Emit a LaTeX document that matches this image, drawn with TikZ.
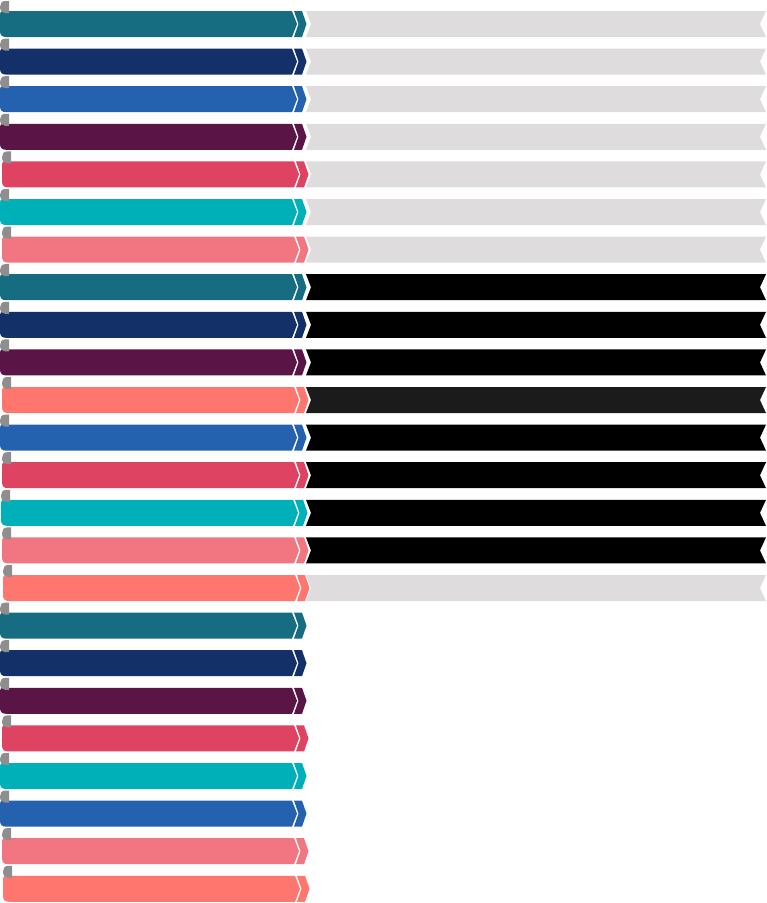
\documentclass[tikz,border=0pt]{standalone}
\definecolor{cteal}{HTML}{166C80}
\definecolor{cnavy}{HTML}{133068}
\definecolor{cblue}{HTML}{2462B0}
\definecolor{cpurple}{HTML}{5B1446}
\definecolor{ccrimson}{HTML}{DE4361}
\definecolor{ccyan}{HTML}{00B0B8}
\definecolor{cpink}{HTML}{F27682}
\definecolor{csalmon}{HTML}{FF766F}
\definecolor{lgray}{HTML}{DEDCDD}
\definecolor{dgray}{HTML}{1B1B1B}
\definecolor{curl}{HTML}{8E8E8E}
\begin{document}
\begin{tikzpicture}[x=1pt,y=-1pt]
\useasboundingbox (0,0) rectangle (767,903);
\foreach \i/\c/\dx/\r/\show in {1/cteal/0/lgray/1, 2/cnavy/0/lgray/1, 3/cblue/0/lgray/1, 4/cpurple/0/lgray/1,
  5/ccrimson/2/lgray/1, 6/ccyan/0/lgray/1, 7/cpink/2/lgray/1, 8/cteal/0/black/1, 9/cnavy/0/black/1,
  10/cpurple/0/black/1, 11/csalmon/2/dgray/1, 12/cblue/0/black/1, 13/ccrimson/2/black/1, 14/ccyan/1/black/1,
  15/cpink/2/black/1, 16/csalmon/3/lgray/1, 17/cteal/0/white/0, 18/cnavy/0/white/0, 19/cpurple/0/white/0,
  20/ccrimson/2/white/0, 21/ccyan/0/white/0, 22/cblue/0/white/0, 23/cpink/2/white/0, 24/csalmon/3/white/0} {
  \pgfmathsetmacro\t{11+(\i-1)*37.6}
  \begin{scope}[shift={(0,\t)}]
    \ifnum\show=1
      \fill[\r] (306,0) -- (766,0) -- (760,13) -- (766,26) -- (306,26) -- (311,13) -- cycle;
    \fi
  \end{scope}
  \begin{scope}[shift={(\dx,\t)}]
    \fill[\c] (3,0) -- (292,0) -- (297,13) -- (292,26) -- (6,26)
      .. controls (2,26) and (0,24) .. (0,20) -- (0,3) .. controls (0,1) and (1,0) .. (3,0) -- cycle;
    \fill[\c] (294,0) -- (302,0) -- (306.5,13) -- (302,26) -- (294,26) -- (298.5,13) -- cycle;
    \fill[curl] (9,-10) -- (5,-10) .. controls (1.5,-10) and (0,-7) .. (0,-4)
      .. controls (0,-0.5) and (2,2) .. (5,2) -- (9,2) -- cycle;
  \end{scope}
}
\end{tikzpicture}
\end{document}
